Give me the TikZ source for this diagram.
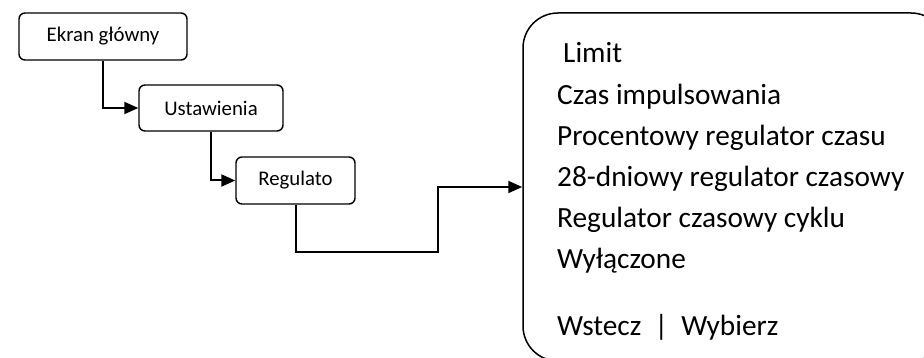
\documentclass[tikz,border=0pt]{standalone}
\usepackage{fontspec}
\setmainfont{Carlito}
\usetikzlibrary{arrows.meta}
\begin{document}
\begin{tikzpicture}[x=1pt,y=-1pt,
  smallbox/.style={draw,line width=1.4pt,rounded corners=6pt,inner sep=0pt,font=\fontsize{20.8}{24}\selectfont},
  bigbox/.style={draw,line width=1.5pt,rounded corners=35pt,inner sep=0pt,minimum width=423pt,minimum height=348pt},
  item/.style={anchor=base west,inner sep=0pt,font=\fontsize{29.3}{34}\selectfont},
  conn/.style={line width=2pt,-{Triangle[length=14pt,width=12pt]}}]
\useasboundingbox (0,0) rectangle (924,358);
\clip (0,0) rectangle (924,358);
\node[smallbox,minimum width=168pt,minimum height=47pt] (b1) at (103,36.5) {Ekran główny};
\node[smallbox,minimum width=144pt,minimum height=46pt] (b2) at (211,108) {Ustawienia};
\node[smallbox,minimum width=119pt,minimum height=47pt] (b3) at (295.5,180.5) {Regulato};
\node[bigbox] (menu) at (734.5,187) {};
\node[item] (t1) at (563,63) {Limit};
\node[item] (t2) at (557,104.5) {Czas impulsowania};
\node[item] (t3) at (557,146) {Procentowy regulator czasu};
\node[item] (t4) at (557,187) {28-dniowy regulator czasowy};
\node[item] (t5) at (557,228) {Regulator czasowy cyklu};
\node[item] (t6) at (557,269) {Wyłączone};
\node[item] (t7) at (557,335) {Wstecz \ | \ Wybierz};
\coordinate (mid) at (438,252);
\draw[conn] (b1.south) |- (b2.west);
\draw[conn] (b2.south) |- (b3.west);
\draw[conn] (b3.south) |- (mid) |- (menu.west);
\end{tikzpicture}
\end{document}
